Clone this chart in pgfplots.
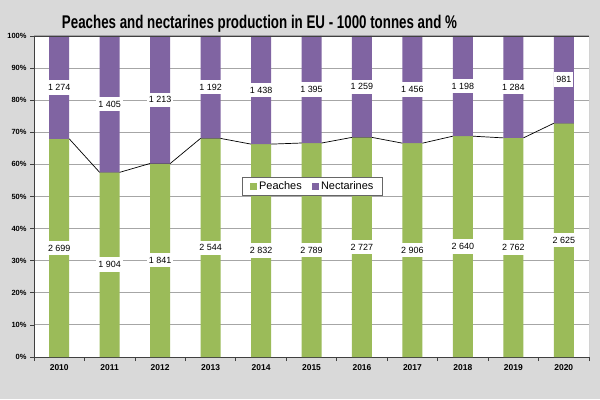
\documentclass[border=0pt]{standalone}
\usepackage{fontspec}
\setmainfont{Liberation Sans}
\usepackage{pgfplots}
\pgfplotsset{compat=1.18}
\definecolor{bg}{RGB}{217,217,217}
\definecolor{peach}{RGB}{155,187,89}
\definecolor{nect}{RGB}{128,100,162}
\definecolor{gridc}{RGB}{166,166,166}
\begin{document}
\begin{tikzpicture}[x=1bp,y=1bp]
\fill[bg] (0,0) rectangle (600,399);
\useasboundingbox (0,0) rectangle (600,399);
\node[anchor=base,inner sep=0pt] at (259.5,370) {\resizebox{395bp}{13.3bp}{\bfseries Peaches and nectarines production in EU - 1000 tonnes and \%}};
\begin{axis}[
  at={(34bp,42bp)}, anchor=south west, scale only axis,
  width=555bp, height=321bp,
  xmin=-0.5, xmax=10.5, ymin=0, ymax=100,
  axis x line*=bottom, axis y line*=left,
  axis line style={draw=black!75, line width=0.8bp},
  axis background/.style={fill=white},
  xtick={-0.5,0.5,...,10.5},
  x tick label as interval,
  xticklabels={2010,2011,2012,2013,2014,2015,2016,2017,2018,2019,2020},
  ytick={0,10,...,100},
  yticklabels={0\%,10\%,20\%,30\%,40\%,50\%,60\%,70\%,80\%,90\%,100\%},
  major tick length=4bp,
  tick align=outside,
  tick style={draw=black!75, line width=0.8bp},
  ymajorgrids, grid style={gridc, line width=1bp},
  xticklabel style={font=\bfseries\fontsize{8.5}{10}\selectfont},
  yticklabel style={font=\bfseries\fontsize{7.5}{9}\selectfont},
  legend image code/.code={\fill[#1] (0bp,-3.4bp) rectangle (6.8bp,3.4bp);},
  legend style={at={(0.502,0.531)}, anchor=center, legend columns=-1,
    draw=black!60, line width=0.8bp, fill=white,
    font=\fontsize{11}{12}\selectfont, inner xsep=7bp, inner ysep=2.5bp,
    /tikz/every even column/.append style={column sep=8bp},
    /tikz/every odd column/.append style={column sep=0.5bp}},
]
\addplot[black, line width=0.7bp, mark=none, forget plot] coordinates {
 (-0.2,67.93) (0.2,67.93) (0.8,57.54) (1.2,57.54) (1.8,60.28) (2.2,60.28)
 (2.8,68.09) (3.2,68.09) (3.8,66.32) (4.2,66.32) (4.8,66.66) (5.2,66.66)
 (5.8,68.41) (6.2,68.41) (6.8,66.62) (7.2,66.62) (7.8,68.79) (8.2,68.79)
 (8.8,68.26) (9.2,68.26) (9.8,72.80) (10.2,72.80)};
\addplot[ybar, bar width=20bp, bar shift=0pt, stack plots=y, fill=peach, draw=none] coordinates {
 (0,67.93) (1,57.54) (2,60.28) (3,68.09) (4,66.32) (5,66.66)
 (6,68.41) (7,66.62) (8,68.79) (9,68.26) (10,72.80)};
\addlegendentry{Peaches}
\addplot[ybar, bar width=20bp, bar shift=0pt, stack plots=y, fill=nect, draw=none] coordinates {
 (0,32.07) (1,42.46) (2,39.72) (3,31.91) (4,33.68) (5,33.34)
 (6,31.59) (7,33.38) (8,31.21) (9,31.74) (10,27.20)};
\addlegendentry{Nectarines}
\addplot[draw=none, mark=none, forget plot,
  nodes near coords, point meta=explicit symbolic,
  nodes near coords style={fill=white, text=black, anchor=center,
    font=\fontsize{9}{10}\selectfont, inner xsep=2bp, inner ysep=4bp}]
 coordinates {
 (0,33.97)[2\ 699] (1,28.77)[1\ 904] (2,30.14)[1\ 841] (3,34.05)[2\ 544]
 (4,33.16)[2\ 832] (5,33.33)[2\ 789] (6,34.21)[2\ 727] (7,33.31)[2\ 906]
 (8,34.40)[2\ 640] (9,34.13)[2\ 762] (10,36.40)[2\ 625]
 (0,83.97)[1\ 274] (1,78.77)[1\ 405] (2,80.14)[1\ 213] (3,84.05)[1\ 192]
 (4,83.16)[1\ 438] (5,83.33)[1\ 395] (6,84.21)[1\ 259] (7,83.31)[1\ 456]
 (8,84.40)[1\ 198] (9,84.13)[1\ 284] (10,86.40)[981]};
\draw[black!75, line width=0.8bp] (rel axis cs:0,1) -- (rel axis cs:1,1);
\draw[gridc, line width=1bp] (rel axis cs:1,0) -- (rel axis cs:1,1);
\end{axis}
\end{tikzpicture}
\end{document}
